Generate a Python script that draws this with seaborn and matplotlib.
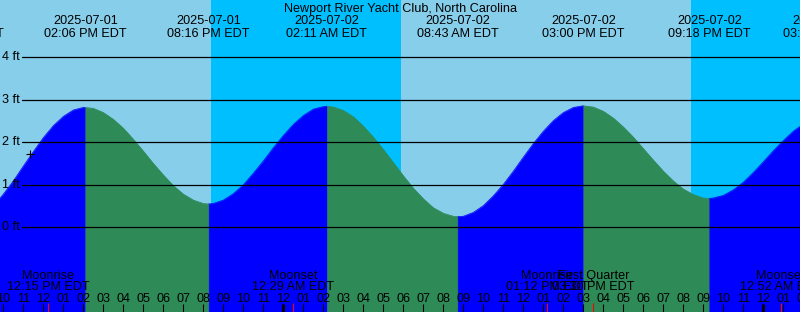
import numpy as np
import pandas as pd
import matplotlib
matplotlib.use("Agg")
import matplotlib.pyplot as plt
import seaborn as sns

# ---------------- data ----------------
TITLE = "Newport River Yacht Club, North Carolina"
view_start = "2025-07-01 09:50"
view_hours = 40

tide_times = ["2025-07-01 07:59", "2025-07-01 14:06", "2025-07-01 20:16",
              "2025-07-02 02:11", "2025-07-02 08:43", "2025-07-02 15:00",
              "2025-07-02 21:18", "2025-07-03 03:03"]
tide_heights = [0.11, 2.82, 0.55, 2.85, 0.25, 2.86, 0.68, 2.58]

curve_start = "2025-07-01 09:30"   # half-hourly readings
curve_heights = [
    0.50, 0.78, 1.09, 1.44, 1.78, 2.11, 2.39, 2.61, 2.76, 2.82,
    2.80, 2.70, 2.54, 2.33, 2.07, 1.79, 1.50, 1.23, 0.98, 0.78, 0.64, 0.56,
    0.56, 0.64, 0.79, 1.00, 1.27, 1.56, 1.87, 2.16, 2.42, 2.63, 2.78, 2.84,
    2.83, 2.75, 2.60, 2.38, 2.12, 1.83, 1.52, 1.21, 0.92, 0.67, 0.46, 0.33, 0.26,
    0.26, 0.35, 0.51, 0.74, 1.01, 1.32, 1.65, 1.97, 2.26, 2.51, 2.70, 2.82,
    2.86,
    2.83, 2.73, 2.57, 2.36, 2.12, 1.85, 1.58, 1.32, 1.09, 0.90, 0.77, 0.69,
    0.69, 0.75, 0.88, 1.06, 1.29, 1.54, 1.80, 2.04, 2.26, 2.43]

sunset_times = ["2025-07-01 20:23", "2025-07-02 20:23"]
sunrise_times = ["2025-07-02 05:53", "2025-07-03 05:53"]

moon_events = ["Moonrise", "Moonset", "Moonrise", "First Quarter", "Moonset"]
moon_times = ["2025-07-01 12:15", "2025-07-02 00:29", "2025-07-02 13:12",
              "2025-07-02 15:30", "2025-07-03 00:52"]

now_time = "2025-07-01 11:20"
now_height = 1.72

depth_levels = [0, 1, 2, 3, 4]

# ---------------- styling ----------------
DAY = "#87CEEB"
NIGHT = "#00BFFF"
FLOOD = "#0000FF"
EBB = "#2E8B57"
MARK = "#FF0000"

W, H = 800, 312
Y0_PIX = 227.3      # pixel row of 0 ft
PIX_PER_FT = 42.5

sns.set_style("white")
plt.rcParams["font.family"] = ["Liberation Sans", "DejaVu Sans"]
plt.rcParams["text.color"] = "black"
FS = 9.1

REF = pd.Timestamp("2025-07-01 00:00")


def hrs(s):
    return (pd.to_datetime(s) - REF) / pd.Timedelta(hours=1)


fig = plt.figure(figsize=(W / 100, H / 100), dpi=100)
ax = fig.add_axes([0, 0, 1, 1])
ax.set_facecolor(DAY)

t0 = hrs(view_start)
t1 = t0 + view_hours
ybot = (Y0_PIX - H) / PIX_PER_FT
ytop = Y0_PIX / PIX_PER_FT
ax.set_xlim(t0, t1)
ax.set_ylim(ybot, ytop)

# night shading
for ss, sr in zip(sunset_times, sunrise_times):
    ax.axvspan(hrs(ss), hrs(sr), color=NIGHT, lw=0, zorder=0)

# tide curve
ct = pd.date_range(curve_start, periods=len(curve_heights), freq="30min")
df = pd.DataFrame({"t": [(x - REF) / pd.Timedelta(hours=1) for x in ct],
                   "h": curve_heights})
ext = pd.DataFrame({"t": [hrs(s) for s in tide_times], "h": tide_heights})
df = pd.concat([df, ext]).sort_values("t").drop_duplicates("t").reset_index(drop=True)

for i in range(len(tide_times) - 1):
    ta, tb = hrs(tide_times[i]), hrs(tide_times[i + 1])
    c = FLOOD if tide_heights[i + 1] > tide_heights[i] else EBB
    seg = df[(df.t >= ta) & (df.t <= tb)]
    ax.fill_between(seg.t, seg.h, ybot - 1, color=c, lw=0.4, ec=c, zorder=1)
    sns.lineplot(x=seg.t.values, y=seg.h.values, color=c, lw=0.5, ax=ax,
                 zorder=2, sort=True)

# depth lines and labels
xt = ax.get_xaxis_transform()
yt = ax.get_yaxis_transform()
for lv in depth_levels:
    ax.axhline(lv, xmin=22 / W, xmax=1, color="black", lw=0.9, zorder=3)
    ax.text(2 / W, lv, f"{lv} ft", transform=yt, ha="left", va="center",
            fontsize=FS, color="black", zorder=4)


def fy(pix):
    return 1 - pix / H


# title and tide event labels
ax.text(0.5, fy(11.7), TITLE, transform=ax.transAxes, ha="center",
        va="baseline", fontsize=FS, color="black", zorder=4)
for s in tide_times:
    ts = pd.to_datetime(s)
    x = hrs(s)
    ax.text(x, fy(24.0), ts.strftime("%Y-%m-%d"), transform=xt, ha="center",
            va="baseline", fontsize=FS, color="black", zorder=4)
    ax.text(x, fy(36.7), ts.strftime("%I:%M %p EDT"), transform=xt,
            ha="center", va="baseline", fontsize=FS, color="black", zorder=4)

# moon events
for name, s in zip(moon_events, moon_times):
    ts = pd.to_datetime(s)
    x = hrs(s)
    ax.text(x, fy(278.7), name, transform=xt, ha="center", va="baseline",
            fontsize=FS, color="black", zorder=4)
    ax.text(x, fy(290.3), ts.strftime("%I:%M %p EDT"), transform=xt,
            ha="center", va="baseline", fontsize=FS, color="black", zorder=4)

# hour ticks and labels
for hh in range(int(np.floor(t0)) - 1, int(np.ceil(t1)) + 2):
    lab = f"{(hh % 12) or 12:02d}"
    ax.text(hh, fy(301.5), lab, transform=xt, ha="center", va="baseline",
            fontsize=FS, color="black", zorder=4)
    if hh % 24 == 0:
        ax.plot([hh, hh], [0, fy(304)], transform=xt, color="black",
                lw=2.2, solid_capstyle="butt", zorder=4)
    else:
        ax.plot([hh, hh], [0, fy(304)], transform=xt, color="black",
                lw=0.8, solid_capstyle="butt", zorder=4)
for s in moon_times:
    x = hrs(s)
    ax.plot([x, x], [0, fy(303)], transform=xt, color=MARK, lw=0.8,
            solid_capstyle="butt", zorder=5)

# current time marker
ax.plot([hrs(now_time)], [now_height], marker="+", ms=6, mew=0.8,
        color="black", zorder=5)

ax.set_xlabel("")
ax.set_ylabel("")
ax.set_xticks([])
ax.set_yticks([])
for sp in ax.spines.values():
    sp.set_visible(False)

fig.savefig("out.png", dpi=100)
